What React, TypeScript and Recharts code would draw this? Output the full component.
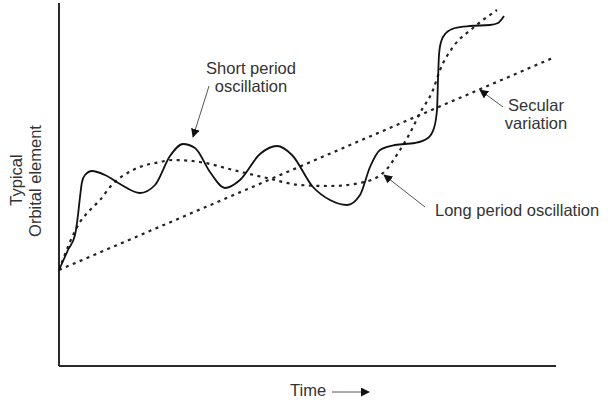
import React from "react";
import { LineChart, Line, XAxis, YAxis, ReferenceLine } from "recharts";

// ============================================================
// Orbital element perturbations - secular, long and short period
// ============================================================

// time axis runs 0..497, element axis 0..363
const secular = [
  { t: 0, v: 96 },
  { t: 496, v: 309 },
];

const longPeriod = [
  { t: 0, v: 96 }, { t: 21, v: 144 }, { t: 31, v: 156 }, { t: 41, v: 166 },
  { t: 51, v: 179 }, { t: 74, v: 196 }, { t: 101, v: 204 }, { t: 114, v: 206 },
  { t: 141, v: 204 }, { t: 174, v: 196 }, { t: 208, v: 188 }, { t: 241, v: 181 },
  { t: 271, v: 180 }, { t: 301, v: 183 }, { t: 324, v: 193 }, { t: 341, v: 216 },
  { t: 351, v: 233 }, { t: 361, v: 253 }, { t: 374, v: 276 }, { t: 381, v: 296 },
  { t: 394, v: 319 }, { t: 414, v: 338 }, { t: 438, v: 356 },
];

const shortPeriod = [
  { t: 0, v: 96 }, { t: 9, v: 116 }, { t: 16, v: 131 }, { t: 19, v: 151 },
  { t: 21, v: 169 }, { t: 23, v: 184 }, { t: 26, v: 191 }, { t: 33, v: 195 },
  { t: 46, v: 191 }, { t: 61, v: 182 }, { t: 81, v: 173 }, { t: 96, v: 181 },
  { t: 111, v: 210 }, { t: 124, v: 222 }, { t: 136, v: 218 }, { t: 151, v: 194 },
  { t: 166, v: 178 }, { t: 181, v: 186 }, { t: 201, v: 212 }, { t: 218, v: 220 },
  { t: 233, v: 211 }, { t: 254, v: 179 }, { t: 271, v: 166 }, { t: 288, v: 161 },
  { t: 301, v: 171 }, { t: 311, v: 199 }, { t: 321, v: 216 }, { t: 336, v: 221 },
  { t: 356, v: 223 }, { t: 369, v: 228 }, { t: 375, v: 238 }, { t: 378, v: 256 },
  { t: 379, v: 286 }, { t: 380, v: 311 }, { t: 382, v: 324 }, { t: 387, v: 333 },
  { t: 396, v: 338 }, { t: 411, v: 340 }, { t: 431, v: 341 }, { t: 439, v: 343 },
  { t: 445, v: 350 },
];

const notes = [
  { text: "Short period", x: 251, y: 74, anchor: "middle" },
  { text: "oscillation", x: 251, y: 92, anchor: "middle" },
  { text: "Secular", x: 536, y: 111, anchor: "middle" },
  { text: "variation", x: 536, y: 129, anchor: "middle" },
  { text: "Long period oscillation", x: 435, y: 216, anchor: "start" },
  { text: "Time", x: 290, y: 396, anchor: "start" },
];

const arrows = [
  { x1: 209, y1: 86, x2: 193, y2: 137 },
  { x1: 503, y1: 107, x2: 480, y2: 90 },
  { x1: 425, y1: 207, x2: 384, y2: 175 },
  { x1: 332, y1: 392, x2: 369, y2: 392 },
];

const FONT = "'Liberation Sans', Arial, sans-serif";

export default function App() {
  return (
    <div style={{ position: "relative", width: 608, height: 402, background: "#fff" }}>
      <style>{"body{margin:0}"}</style>
      <LineChart
        width={608}
        height={402}
        margin={{ top: 3, right: 52, bottom: 36, left: 59 }}
      >
        <XAxis type="number" dataKey="t" domain={[0, 497]} hide />
        <YAxis type="number" dataKey="v" domain={[0, 363]} hide />
        <ReferenceLine x={0} stroke="#2a2a2a" strokeWidth={2} />
        <ReferenceLine y={0} stroke="#2a2a2a" strokeWidth={2} />
        <Line
          data={secular}
          dataKey="v"
          type="linear"
          stroke="#222"
          strokeWidth={2.2}
          strokeDasharray="3 4.5"
          dot={false}
          isAnimationActive={false}
        />
        <Line
          data={longPeriod}
          dataKey="v"
          type="monotone"
          stroke="#222"
          strokeWidth={2.2}
          strokeDasharray="3 4.5"
          dot={false}
          isAnimationActive={false}
        />
        <Line
          data={shortPeriod}
          dataKey="v"
          type="monotone"
          stroke="#111"
          strokeWidth={1.8}
          dot={false}
          isAnimationActive={false}
        />
      </LineChart>

      <svg
        width={608}
        height={402}
        style={{ position: "absolute", left: 0, top: 0, pointerEvents: "none" }}
      >
        <defs>
          <marker
            id="head"
            viewBox="0 0 10 10"
            refX="9"
            refY="5"
            markerWidth="9"
            markerHeight="9"
            markerUnits="userSpaceOnUse"
            orient="auto"
          >
            <path d="M0,0 L10,5 L0,10 z" fill="#111" />
          </marker>
        </defs>
        {arrows.map((a, i) => (
          <line
            key={i}
            x1={a.x1}
            y1={a.y1}
            x2={a.x2}
            y2={a.y2}
            stroke="#555"
            strokeWidth={1}
            markerEnd="url(#head)"
          />
        ))}
        {notes.map((n, i) => (
          <text
            key={i}
            x={n.x}
            y={n.y}
            textAnchor={n.anchor as any}
            fontFamily={FONT}
            fontSize={16.5}
            fill="#333"
          >
            {n.text}
          </text>
        ))}
        <text
          transform="translate(22,180) rotate(-90)"
          textAnchor="middle"
          fontFamily={FONT}
          fontSize={16.5}
          fill="#333"
        >
          Typical
        </text>
        <text
          transform="translate(41,181) rotate(-90)"
          textAnchor="middle"
          fontFamily={FONT}
          fontSize={16.5}
          fill="#333"
        >
          Orbital element
        </text>
      </svg>
    </div>
  );
}
